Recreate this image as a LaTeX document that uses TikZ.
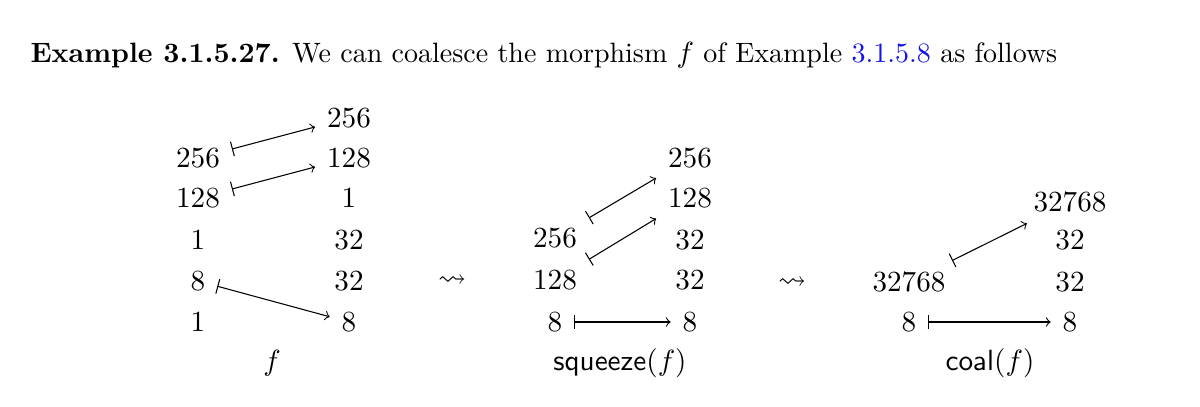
\documentclass[tikz,border=0pt]{standalone}
\usepackage{amsmath}
\usepackage{amssymb}
\usepackage{xcolor}
\usetikzlibrary{positioning}
\definecolor{linkblue}{RGB}{20,20,230}

\begin{document}
\begin{tikzpicture}[
    x=0.375pt, y=-0.375pt,
    font=\fontsize{10.5pt}{13pt}\selectfont,
    num/.style={inner sep=4.5pt, outer sep=0pt},
    lbl/.style={inner sep=0pt},
    maps/.style={|->}
]
\useasboundingbox (0,0) rectangle (1200,407);

% Heading
\node[lbl, anchor=base west] (head) at (30,63) {\textbf{Example 3.1.5.27.} We can coalesce the morphism $f$ of Example \textcolor{linkblue}{3.1.5.8} as follows};

% Morphism f
\node[num] (f_l256) at (198,158) {$256$};
\node[num] (f_l128) at (198,198) {$128$};
\node[num] (f_l1a) at (198,240) {$1$};
\node[num] (f_l8) at (198,281) {$8$};
\node[num] (f_l1b) at (198,322) {$1$};
\node[num] (f_r256) at (349,118) {$256$};
\node[num] (f_r128) at (349,158) {$128$};
\node[num] (f_r1) at (349,198) {$1$};
\node[num] (f_r32a) at (349,240) {$32$};
\node[num] (f_r32b) at (349,281) {$32$};
\node[num] (f_r8) at (349,322) {$8$};
\node[lbl] (f_name) at (272,363) {$f$};

\draw[maps] (f_l256) -- (f_r256);
\draw[maps] (f_l128) -- (f_r128);
\draw[maps] (f_l8) -- (f_r8);

% First step
\node[lbl] (step1) at (452,281) {$\rightsquigarrow$};

% squeeze(f)
\node[num] (s_l256) at (555,238) {$256$};
\node[num] (s_l128) at (555,280) {$128$};
\node[num] (s_l8) at (555,322) {$8$};
\node[num] (s_r256) at (690,158) {$256$};
\node[num] (s_r128) at (690,198) {$128$};
\node[num] (s_r32a) at (690,240) {$32$};
\node[num] (s_r32b) at (690,280) {$32$};
\node[num] (s_r8) at (690,322) {$8$};
\node[lbl] (s_name) at (620,363) {$\mathsf{squeeze}(f)$};

\draw[maps] (s_l256) -- (s_r256);
\draw[maps] (s_l128) -- (s_r128);
\draw[maps] (s_l8) -- (s_r8);

% Second step
\node[lbl] (step2) at (792,283) {$\rightsquigarrow$};

% coal(f)
\node[num] (c_l32768) at (909,282) {$32768$};
\node[num] (c_l8) at (909,322) {$8$};
\node[num] (c_r32768) at (1070,202) {$32768$};
\node[num] (c_r32a) at (1070,240) {$32$};
\node[num] (c_r32b) at (1070,282) {$32$};
\node[num] (c_r8) at (1070,322) {$8$};
\node[lbl] (c_name) at (990,363) {$\mathsf{coal}(f)$};

\draw[maps] (c_l32768) -- (c_r32768);
\draw[maps] (c_l8) -- (c_r8);

\end{tikzpicture}
\end{document}
